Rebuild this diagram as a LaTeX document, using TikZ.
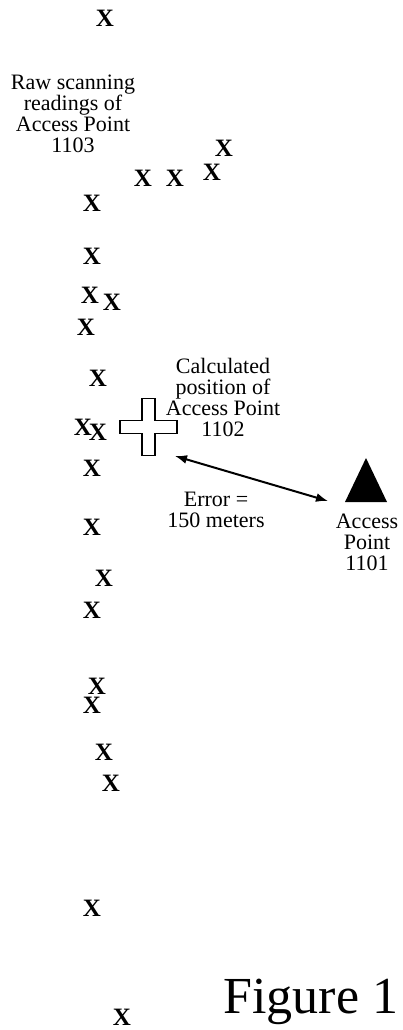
\documentclass[tikz,border=0pt]{standalone}
\usepackage{fontspec}
\setmainfont{Liberation Serif}
\usetikzlibrary{arrows.meta}
\tikzset{
  rd/.style={font=\fontsize{25}{25}\selectfont\bfseries, inner sep=0pt},
  lbl/.style={font=\fontsize{22}{21}\selectfont, align=center, inner sep=0pt},
  errarr/.style={{Latex[length=12pt,width=9pt]}-{Latex[length=12pt,width=9pt]}, line width=2pt},
  plusmark/.style={draw, line width=1.5pt, fill=white}
}
\begin{document}
\begin{tikzpicture}[x=1pt, y=-1pt]
\useasboundingbox (0,0) rectangle (402,1030);
\foreach \px/\py [count=\i] in {105/18, 224/148, 212/172, 175/178, 143/178, 92/203,
    92/256, 90/295, 112/302, 86/327, 98/378, 83/427, 98/432, 92/468, 92/527,
    104/578, 92/610, 97/686, 92/705, 104/752, 111/783, 92/908, 122/1017}
  \node[rd] (x\i) at (\px,\py) {X};
\node[lbl] (raw) at (73,114) {Raw scanning\\readings of\\Access Point\\1103};
\node[lbl] (calc) at (223,397) {Calculated\\position of\\Access Point\\1102};
\coordinate (pos) at (148.5,427);
\path[plusmark] (pos) ++(-6.5,-28.5) -- ++(13,0) -- ++(0,22) -- ++(22,0) -- ++(0,13)
  -- ++(-22,0) -- ++(0,22) -- ++(-13,0) -- ++(0,-22) -- ++(-22,0) -- ++(0,-13)
  -- ++(22,0) -- cycle;
\fill (366,458) -- (387,502) -- (345,502) -- cycle;
\coordinate (posend) at (175,456);
\coordinate (apend) at (328,501);
\draw[errarr] (posend) -- (apend);
\node[lbl] (errlbl) at (216,510) {Error =\\150 meters};
\node[lbl] (ap) at (367,542) {Access\\Point\\1101};
\node[font=\fontsize{52}{52}\selectfont, inner sep=0pt, anchor=base] (fig) at (311,1013) {Figure 1};
\end{tikzpicture}
\end{document}
